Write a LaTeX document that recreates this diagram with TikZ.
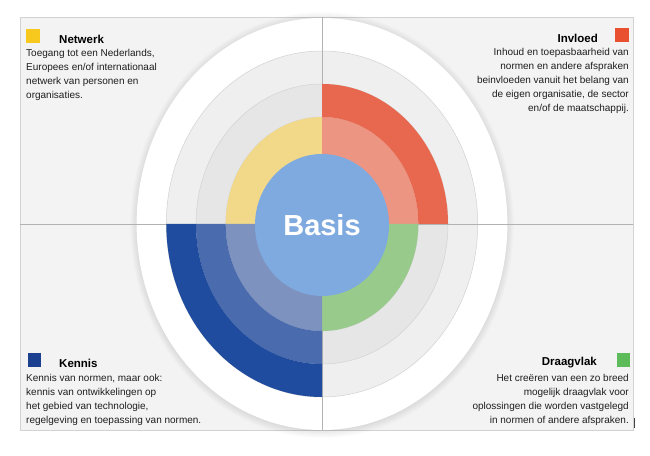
\documentclass[tikz,border=0pt]{standalone}
\usepackage{fontspec}
\setmainfont{Liberation Sans}
\definecolor{framegray}{HTML}{F3F3F3}
\definecolor{edgegray}{HTML}{D2D2D2}
\definecolor{ringouter}{HTML}{EFEFEF}
\definecolor{ringmid}{HTML}{E6E6E6}
\definecolor{basisblue}{HTML}{7FAADF}
\definecolor{yellowring}{HTML}{F2D98A}
\definecolor{salmonring}{HTML}{EC9583}
\definecolor{redring}{HTML}{E8684F}
\definecolor{greenring}{HTML}{98CB8B}
\definecolor{blueinner}{HTML}{7D92BF}
\definecolor{bluemid}{HTML}{4A6BAE}
\definecolor{bluedark}{HTML}{1F4C9E}
\definecolor{sqyellow}{HTML}{F7C81E}
\definecolor{sqred}{HTML}{E8502F}
\definecolor{sqblue}{HTML}{1C3F8F}
\definecolor{sqgreen}{HTML}{5DBB5A}
\definecolor{inkgray}{HTML}{1E1E1E}
% annular part: start angle, end angle, inner radius, outer radius, colour
\newcommand{\ringpart}[5]{%
  \fill[#5] (#1:#3) arc[start angle=#1, end angle=#2, radius=#3]
    -- (#2:#4) arc[start angle=#2, end angle=#1, radius=#4] -- cycle;}
\begin{document}
\begin{tikzpicture}[x=1pt, y=1pt,
    blurb/.style={inner sep=0pt, text=inkgray, font=\fontsize{10}{14.1}\selectfont},
    head/.style={inner sep=0pt, text=black, font=\fontsize{11.5}{13}\selectfont\bfseries}]
  \useasboundingbox[fill=white] (0,0) rectangle (650,455);
  % frame
  \draw[edgegray, fill=framegray, line width=0.5pt] (20,25) rectangle (633,438);
  % rings
  \begin{scope}[shift={(322,231)}, xscale=0.9]
    \foreach \k in {1,...,8}
      \fill[black, opacity=0.012] (0,-1) circle[radius=205+\k];
    \fill[white] (0,0) circle[radius=206];
    \draw[edgegray, fill=ringouter, line width=0.5pt] (0,0) circle[radius=173];
    \draw[edgegray, fill=ringmid, line width=0.5pt] (0,0) circle[radius=140];
    \draw[edgegray, line width=0.5pt] (0,0) circle[radius=107];
  \end{scope}
  % cross lines
  \coordinate (top) at (322,438);
  \coordinate (bottom) at (322,25);
  \coordinate (left) at (20,231);
  \coordinate (right) at (633,231);
  \draw[black!30, line width=0.6pt] (top) -- (bottom);
  \draw[black!30, line width=0.6pt] (left) -- (right);
  % coloured parts
  \begin{scope}[shift={(322,231)}, xscale=0.9]
    \ringpart{90}{180}{66}{107}{yellowring}
    \ringpart{0}{90}{66}{107}{salmonring}
    \ringpart{0}{90}{107}{140}{redring}
    \ringpart{270}{360}{66}{107}{greenring}
    \ringpart{180}{270}{66}{107}{blueinner}
    \ringpart{180}{270}{107}{140}{bluemid}
    \ringpart{180}{270}{140}{173}{bluedark}
  \end{scope}
  \fill[basisblue] (322,230) ellipse[x radius=67, y radius=71];
  \node[text=white, font=\fontsize{29}{30}\selectfont\bfseries] (basis) at (322,230) {Basis};
  % Netwerk
  \fill[sqyellow] (26,412) rectangle (40,426);
  \node[head, anchor=west] (netwerk) at (59,416) {Netwerk};
  \node[blurb, anchor=north west, align=left] (netwerktxt) at (26,406)
    {Toegang tot een Nederlands,\\Europees en/of internationaal\\netwerk van personen en\\organisaties.};
  % Invloed
  \fill[sqred] (615,413) rectangle (629,427);
  \node[head, anchor=east] (invloed) at (598,417) {Invloed};
  \node[blurb, anchor=north east, align=right] (invloedtxt) at (629,407)
    {Inhoud en toepasbaarheid van\\normen en andere afspraken\\beinvloeden vanuit het belang van\\de eigen organisatie, de sector\\en/of de maatschappij.};
  % Kennis
  \fill[sqblue] (28,88) rectangle (41,102);
  \node[head, anchor=west] (kennis) at (59,92) {Kennis};
  \node[blurb, anchor=north west, align=left] (kennistxt) at (26,81)
    {Kennis van normen, maar ook:\\kennis van ontwikkelingen op\\het gebied van technologie,\\regelgeving en toepassing van normen.};
  % Draagvlak
  \fill[sqgreen] (617,88) rectangle (630,102);
  \node[head, anchor=east] (draagvlak) at (597,92) {Draagvlak};
  \node[blurb, anchor=north east, align=right] (draagvlaktxt) at (629,81)
    {Het creëren van een zo breed\\mogelijk draagvlak voor\\oplossingen die worden vastgelegd\\in normen of andere afspraken.};
  \draw[black!75, line width=1pt] (634,27) -- (634,37);
\end{tikzpicture}
\end{document}
